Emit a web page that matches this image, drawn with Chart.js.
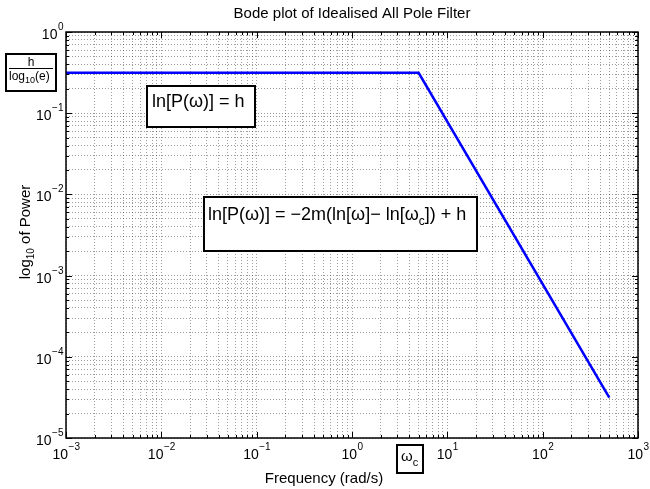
<!DOCTYPE html>
<html>
<head>
<meta charset="utf-8">
<script src="https://cdn.jsdelivr.net/npm/chart.js@4/dist/chart.umd.min.js"></script>
<style>
  body { margin: 0; background: #fff; }
  #bode { display: block; }
</style>
</head>
<body>
<canvas id="bode" width="650" height="489"></canvas>
<script>
// ---------------- data ----------------
var freq  = [0.001, 5, 500];            // rad/s
var power = [0.3147, 0.3147, 3.147e-5]; // flat at h/log10(e), then -2 decades/decade
var xExps = [-3, -2, -1, 0, 1, 2, 3];   // tick labels 10^n
var yExps = [-5, -4, -3, -2, -1, 0];

var FONT = '"Liberation Sans", Arial, Helvetica, sans-serif';

// 1..9 x 10^n for every decade -> grid lines
function logTicks(exps) {
    var t = [];
    for (var i = 0; i < exps.length; i++) {
        var p = Math.pow(10, exps[i]);
        if (i === exps.length - 1) { t.push({ value: p, major: true }); break; }
        for (var k = 1; k <= 9; k++) t.push({ value: k * p, major: k === 1 });
    }
    return t;
}

function expText(n) { return n < 0 ? '\u2212' + (-n) : String(n); }

// "10" with raised exponent, y = baseline of the "10"
function drawPow(ctx, n, x, y, align) {
    ctx.font = '14px ' + FONT;
    var w1 = ctx.measureText('10').width;
    var e = expText(n);
    ctx.font = '10px ' + FONT;
    var w2 = ctx.measureText(e).width;
    var x0 = align === 'center' ? x - (w1 + w2) / 2 : x - (w1 + w2);
    ctx.textAlign = 'left';
    ctx.textBaseline = 'alphabetic';
    ctx.font = '14px ' + FONT;
    ctx.fillText('10', x0, y);
    ctx.font = '10px ' + FONT;
    ctx.fillText(e, x0 + w1 + 0.5, y - 9);
}

// draw a run of [text, size, dy] pieces from x on baseline y
function drawRuns(ctx, runs, x, y) {
    ctx.textAlign = 'left';
    ctx.textBaseline = 'alphabetic';
    runs.forEach(function (r) {
        ctx.font = r[1] + 'px ' + FONT;
        ctx.fillText(r[0], x, y + (r[2] || 0));
        x += ctx.measureText(r[0]).width;
    });
    return x;
}

function runsWidth(ctx, runs) {
    var w = 0;
    runs.forEach(function (r) { ctx.font = r[1] + 'px ' + FONT; w += ctx.measureText(r[0]).width; });
    return w;
}

function textBox(ctx, x, y, w, h) {
    ctx.save();
    ctx.fillStyle = '#fff';
    ctx.fillRect(x, y, w, h);
    ctx.strokeStyle = '#000';
    ctx.lineWidth = 2;
    ctx.strokeRect(x, y, w, h);
    ctx.restore();
}

//------------------------------------- axes, labels, notes -------------------------------------//
var matlabAxes = {
    id: 'matlabAxes',
    afterDraw: function (chart) {
        var ctx = chart.ctx;
        var a = chart.chartArea;
        var xs = chart.scales.x, ys = chart.scales.y;
        ctx.save();
        ctx.strokeStyle = '#000';
        ctx.fillStyle = '#000';

        // inward ticks on all four sides
        ctx.lineWidth = 1;
        ctx.beginPath();
        xs.ticks.forEach(function (t) {
            var px = Math.round(xs.getPixelForValue(t.value)) + 0.5;
            var len = t.major ? 6 : 3;
            ctx.moveTo(px, a.bottom); ctx.lineTo(px, a.bottom - len);
            ctx.moveTo(px, a.top); ctx.lineTo(px, a.top + len);
        });
        ys.ticks.forEach(function (t) {
            var py = Math.round(ys.getPixelForValue(t.value)) + 0.5;
            var len = t.major ? 6 : 3;
            ctx.moveTo(a.left, py); ctx.lineTo(a.left + len, py);
            ctx.moveTo(a.right, py); ctx.lineTo(a.right - len, py);
        });
        ctx.stroke();

        // box
        ctx.lineWidth = 1.5;
        ctx.strokeRect(a.left, a.top, a.right - a.left, a.bottom - a.top);

        // tick labels
        xExps.forEach(function (n) {
            drawPow(ctx, n, xs.getPixelForValue(Math.pow(10, n)), a.bottom + 21, 'center');
        });
        yExps.forEach(function (n) {
            drawPow(ctx, n, a.left - 3, ys.getPixelForValue(Math.pow(10, n)) + 7, 'right');
        });

        // axis titles
        var xt = [['Frequency (rad/s)', 15]];
        drawRuns(ctx, xt, 324 - runsWidth(ctx, xt) / 2, 483);

        ctx.save();
        ctx.translate(30, 232);
        ctx.rotate(-Math.PI / 2);
        var yt = [['log', 15], ['10', 10, 4], [' of Power', 15]];
        drawRuns(ctx, yt, -runsWidth(ctx, yt) / 2, 0);
        ctx.restore();

        // h / log10(e) marker at the flat level
        textBox(ctx, 6, 54, 50, 37);
        ctx.font = '12px ' + FONT;
        ctx.textAlign = 'center';
        ctx.fillText('h', 31, 66);
        ctx.lineWidth = 1;
        ctx.beginPath(); ctx.moveTo(9, 68.5); ctx.lineTo(53, 68.5); ctx.stroke();
        drawRuns(ctx, [['log', 12], ['10', 9, 3], ['(e)', 12]], 9, 80);

        // flat-band equation
        textBox(ctx, 147, 86, 108, 41);
        drawRuns(ctx, [['ln[P(\u03c9)] = h', 18]], 152, 107);

        // roll-off equation
        textBox(ctx, 204, 197, 273, 54);
        drawRuns(ctx, [['ln[P(\u03c9)] = \u22122m(ln[\u03c9]\u2212 ln[\u03c9', 18], ['c', 12, 5], [']) + h', 18]], 208, 220);

        // omega_c marker under the axis
        textBox(ctx, 397, 445, 26, 28);
        drawRuns(ctx, [['\u03c9', 15], ['c', 11, 5]], 401, 461);

        ctx.restore();
    }
};

const CHART = document.getElementById('bode');
var gridOpts = { color: 'rgba(0,0,0,0.38)', lineWidth: 1, drawTicks: false };

let bodeChart = new Chart(CHART, {
    type: 'line',
    data: {
        datasets: [
            {
                data: freq.map(function (f, i) { return { x: f, y: power[i] }; }),
                borderColor: '#0000ff',
                borderWidth: 2.5,
                pointRadius: 0,
                tension: 0,
                fill: false
            }
        ]
    },
    options: {
        responsive: false,
        animation: false,
        devicePixelRatio: 1,
        layout: { padding: { left: 66, right: 12, top: 0, bottom: 51 } },
        plugins: {
            legend: { display: false },
            tooltip: { enabled: false },
            title: {
                display: true,
                text: 'Bode plot of Idealised All Pole Filter',
                color: '#000',
                font: { family: FONT, size: 15, weight: 'normal' },
                padding: { top: 5, bottom: 9 }
            }
        },
        scales: {
            x: {
                type: 'logarithmic',
                min: 1e-3, max: 1e3,
                afterBuildTicks: function (s) { s.ticks = logTicks(xExps); },
                ticks: { display: false },
                grid: gridOpts,
                border: { display: false, dash: [1, 2] }
            },
            y: {
                type: 'logarithmic',
                min: 1e-5, max: 1,
                afterBuildTicks: function (s) { s.ticks = logTicks(yExps); },
                ticks: { display: false },
                grid: gridOpts,
                border: { display: false, dash: [1, 2] }
            }
        }
    },
    plugins: [matlabAxes]
});
</script>
</body>
</html>
